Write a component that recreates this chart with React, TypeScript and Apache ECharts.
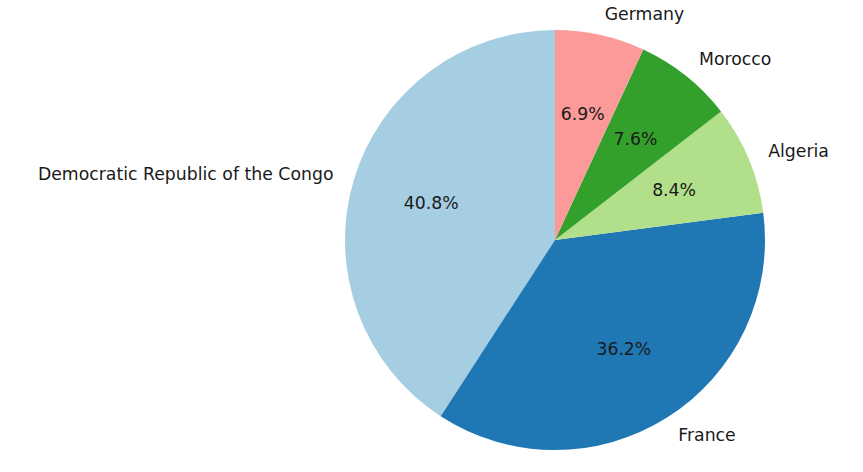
import React, { useEffect, useRef } from "react";
import * as echarts from "echarts";

const countries = ["Democratic Republic of the Congo", "France", "Algeria", "Morocco", "Germany"];
const shares = [40.8, 36.2, 8.4, 7.6, 6.9];
const colors = ["#a6cee3", "#1f78b4", "#b2df8a", "#33a02c", "#fb9a99"];

const CX = 555;
const CY = 240;
const R = 210;
const FONT = "DejaVu Sans";
const FS = 17.3;

export default function App() {
  const ref = useRef<HTMLDivElement>(null);
  useEffect(() => {
    if (!ref.current) return;
    const chart = echarts.init(ref.current, undefined, { renderer: "svg" });
    const data = countries.map((name, i) => ({
      name,
      value: shares[i],
      itemStyle: { color: colors[i] },
    }));
    chart.setOption({
      animation: false,
      backgroundColor: "#ffffff",
      series: [
        {
          type: "pie",
          center: [CX, CY],
          radius: [0, R],
          startAngle: 90,
          clockwise: false,
          avoidLabelOverlap: false,
          silent: true,
          data,
          label: {
            show: true,
            position: "outside",
            formatter: "{b}",
            fontFamily: FONT,
            fontSize: FS,
            color: "#1a1a1a",
            distanceToLabelLine: 0,
          },
          labelLine: { show: false, length: R * 0.1, length2: 0 },
        },
        {
          type: "pie",
          center: [CX, CY],
          radius: [0, R * 1.2],
          startAngle: 90,
          clockwise: false,
          avoidLabelOverlap: false,
          silent: true,
          data: countries.map((name, i) => ({
            name,
            value: shares[i],
            itemStyle: { color: "rgba(0,0,0,0)" },
          })),
          label: {
            show: true,
            position: "inside",
            formatter: (p: any) => p.value.toFixed(1) + "%",
            fontFamily: FONT,
            fontSize: FS,
            color: "#1a1a1a",
          },
          labelLine: { show: false },
        },
      ],
    });
    return () => chart.dispose();
  }, []);
  return (
    <div
      ref={ref}
      style={{ position: "fixed", left: 0, top: 0, width: 863, height: 472 }}
    />
  );
}
